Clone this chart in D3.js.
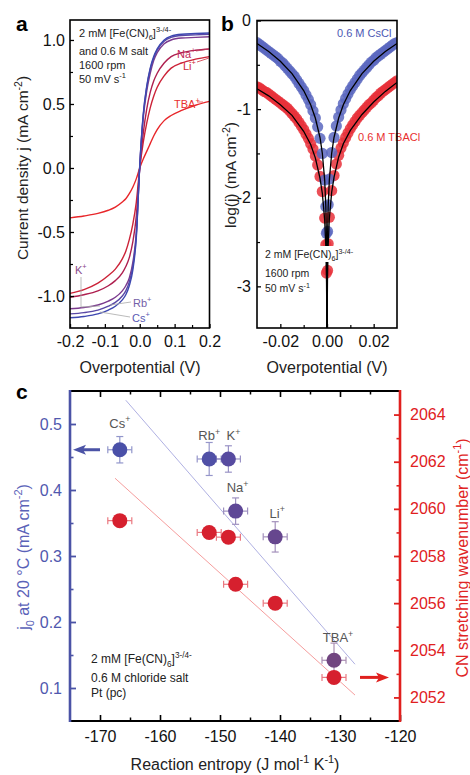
<!DOCTYPE html>
<html>
<head>
<meta charset="utf-8">
<script src="https://cdn.jsdelivr.net/npm/d3@7/dist/d3.min.js"></script>
<style>
  body { margin: 0; background: #fff; }
  svg { display: block; font-family: "Liberation Sans", Arial, sans-serif; }
</style>
</head>
<body>
<script>
// ---- panel a: RDE polarisation curves ----
const etaA = [-0.2, -0.16, -0.12, -0.09, -0.07, -0.05, -0.04, -0.03, -0.02, -0.01, 0,
  0.01, 0.02, 0.03, 0.04, 0.05, 0.07, 0.09, 0.12, 0.16, 0.2];
const jCs = [-1.17, -1.16, -1.14, -1.11, -1.08, -1.03, -0.99, -0.92, -0.80, -0.55, 0.02,
  0.42, 0.64, 0.78, 0.87, 0.93, 1.0, 1.03, 1.045, 1.05, 1.055];
const jRb = [-1.14, -1.13, -1.11, -1.08, -1.05, -1.0, -0.96, -0.89, -0.77, -0.53, 0.02,
  0.41, 0.63, 0.77, 0.86, 0.92, 0.99, 1.02, 1.035, 1.04, 1.045];
const jK = [-1.10, -1.09, -1.07, -1.04, -1.01, -0.96, -0.92, -0.86, -0.74, -0.51, 0.01,
  0.39, 0.60, 0.74, 0.84, 0.90, 0.97, 1.0, 1.015, 1.02, 1.025];
const jNa = [-1.01, -0.99, -0.96, -0.92, -0.88, -0.82, -0.77, -0.70, -0.58, -0.38, 0.0,
  0.27, 0.46, 0.59, 0.68, 0.74, 0.82, 0.87, 0.90, 0.92, 0.93];
const jLi = [-0.98, -0.95, -0.90, -0.84, -0.79, -0.71, -0.65, -0.56, -0.44, -0.27, 0.0,
  0.20, 0.35, 0.47, 0.56, 0.63, 0.72, 0.78, 0.82, 0.85, 0.87];
const jTBA = [-0.39, -0.375, -0.355, -0.33, -0.305, -0.265, -0.24, -0.20, -0.15, -0.085, 0.0,
  0.07, 0.13, 0.19, 0.25, 0.30, 0.37, 0.41, 0.45, 0.49, 0.52];

// ---- panel b: log|j| near equilibrium ----
const etaB = [-0.030, -0.029, -0.028, -0.027, -0.026, -0.025, -0.024, -0.023, -0.022, -0.021,
  -0.020, -0.019, -0.018, -0.017, -0.016, -0.015, -0.014, -0.013, -0.012, -0.011,
  -0.010, -0.009, -0.008, -0.007, -0.006, -0.005, -0.004, -0.003, -0.002, -0.001,
  -0.0005, -0.00025, 0.00025, 0.0005,
  0.001, 0.002, 0.003, 0.004, 0.005, 0.006, 0.007, 0.008, 0.009, 0.010,
  0.011, 0.012, 0.013, 0.014, 0.015, 0.016, 0.017, 0.018, 0.019, 0.020,
  0.021, 0.022, 0.023, 0.024, 0.025, 0.026, 0.027, 0.028, 0.029, 0.030];
const logCs = [-0.25, -0.27, -0.29, -0.31, -0.33, -0.35, -0.37, -0.39, -0.41, -0.43,
  -0.46, -0.48, -0.51, -0.54, -0.57, -0.60, -0.63, -0.67, -0.71, -0.75,
  -0.79, -0.84, -0.89, -0.95, -1.02, -1.10, -1.20, -1.33, -1.50, -1.80,
  -2.10, -2.40, -2.38, -2.08,
  -1.79, -1.49, -1.32, -1.19, -1.09, -1.01, -0.94, -0.88, -0.83, -0.78,
  -0.74, -0.70, -0.66, -0.62, -0.59, -0.56, -0.53, -0.50, -0.47, -0.45,
  -0.42, -0.40, -0.38, -0.36, -0.34, -0.32, -0.30, -0.28, -0.26, -0.25];
const logTBA = [-0.75, -0.76, -0.78, -0.80, -0.81, -0.83, -0.85, -0.87, -0.89, -0.91,
  -0.93, -0.95, -0.97, -0.99, -1.02, -1.05, -1.08, -1.11, -1.15, -1.19,
  -1.23, -1.28, -1.33, -1.39, -1.45, -1.53, -1.63, -1.76, -1.93, -2.23,
  -2.53, -2.85, -2.82, -2.52,
  -2.22, -1.92, -1.75, -1.62, -1.52, -1.44, -1.38, -1.32, -1.27, -1.22,
  -1.18, -1.14, -1.10, -1.07, -1.04, -1.01, -0.98, -0.95, -0.93, -0.90,
  -0.87, -0.85, -0.82, -0.80, -0.78, -0.76, -0.74, -0.72, -0.70, -0.68];
// fitted curves (one branch on each side of zero)
const fitEtaL = [-0.03, -0.025, -0.02, -0.015, -0.01, -0.007, -0.005, -0.003, -0.002, -0.001,
  -0.0005, -0.0002, -0.0001, -0.00003, -0.00001];
const fitEtaR = [0.00001, 0.00003, 0.0001, 0.0002, 0.0005, 0.001, 0.002, 0.003, 0.005, 0.007,
  0.01, 0.015, 0.02, 0.025, 0.03];
const fitCsL = [-0.26, -0.35, -0.46, -0.60, -0.79, -0.95, -1.10, -1.32, -1.50, -1.80,
  -2.10, -2.50, -2.80, -3.32, -3.80];
const fitCsR = [-3.80, -3.32, -2.80, -2.50, -2.10, -1.80, -1.50, -1.32, -1.10, -0.95,
  -0.79, -0.60, -0.46, -0.35, -0.26];
const fitTBAL = [-0.77, -0.85, -0.95, -1.07, -1.25, -1.40, -1.55, -1.78, -1.95, -2.25,
  -2.55, -2.95, -3.25, -3.77, -4.2];
const fitTBAR = [-4.2, -3.76, -3.24, -2.94, -2.54, -2.24, -1.94, -1.77, -1.54, -1.39,
  -1.24, -1.06, -0.92, -0.80, -0.70];

// ---- panel c: j0 and CN wavenumber vs reaction entropy ----
const cations = ["Cs", "Rb", "K", "Na", "Li", "TBA"];
const entropy = [-166.7, -151.8, -148.6, -147.4, -140.8, -131.0];
const entropyErr = [2, 2, 2, 2, 2, 2];
const j0 = [0.461, 0.447, 0.447, 0.368, 0.329, 0.142];
const j0Err = [0.02, 0.025, 0.02, 0.02, 0.023, 0.026];
const wavenumber = [2059.5, 2059.0, 2058.8, 2056.8, 2056.0, 2052.85];
const fitJ0 = [[-165.7, 0.536], [-127.5, 0.136]];
const fitWave = [[-167.5, 2061.3], [-127.5, 2052.1]];

const W = 470, H = 775;
const svg = d3.select("body").append("svg").attr("width", W).attr("height", H);

// text with super/subscripts
function rich(g, x, y, parts, fs, attrs) {
  const t = g.append("text").attr("x", x).attr("y", y).attr("font-size", fs);
  Object.entries(attrs || {}).forEach(([k, v]) => t.attr(k, v));
  let cur = 0;
  parts.forEach(p => {
    const p2 = typeof p === "string" ? { t: p } : p;
    const shift = p2.sup ? -0.42 * fs : p2.sub ? 0.3 * fs : 0;
    t.append("tspan").attr("dy", shift - cur)
      .attr("font-size", p2.sup || p2.sub ? fs * 0.68 : fs).text(p2.t);
    cur = shift;
  });
  return t;
}
const hy = s => s.replace("\u2212", "-");

function styleAxis(g, w, color) {
  g.select(".domain").remove();
  g.selectAll(".tick line").attr("stroke", color || "#000").attr("stroke-width", w);
  g.selectAll(".tick text").attr("font-size", 16).attr("fill", color || "#111");
  g.attr("font-family", null);
}

// ================= panel a =================
const xA = d3.scaleLinear().domain([-0.2, 0.2]).range([70, 209.5]);
const yA = d3.scaleLinear().domain([-1.25, 1.156]).range([328, 20]);
const gA = svg.append("g");

const curvesA = [
  { j: jTBA, c: "#e8262a" }, { j: jLi, c: "#cc2338" }, { j: jNa, c: "#ae1f4f" },
  { j: jK, c: "#7b3a8e" }, { j: jRb, c: "#5a48a6" }, { j: jCs, c: "#3d47b0" }
];
const lineA = d3.line().x(d => xA(d[0])).y(d => yA(d[1])).curve(d3.curveMonotoneX);
gA.selectAll("path.iv").data(curvesA).join("path").attr("class", "iv")
  .attr("d", d => lineA(etaA.map((e, i) => [e, d.j[i]])))
  .attr("fill", "none").attr("stroke", d => d.c).attr("stroke-width", 1.4);

gA.append("g").attr("transform", "translate(0,328)")
  .call(d3.axisBottom(xA).tickValues([-0.2, -0.1, 0, 0.1, 0.2]).tickSize(-4).tickPadding(8)
    .tickFormat(d => hy(d3.format(".1f")(d))))
  .call(g => styleAxis(g, 1.3));
gA.append("g").attr("transform", "translate(0,328)")
  .call(d3.axisBottom(xA).tickValues([-0.15, -0.05, 0.05, 0.15]).tickSize(-3).tickFormat(""))
  .call(g => styleAxis(g, 1.2));
gA.append("g").attr("transform", "translate(70,0)")
  .call(d3.axisLeft(yA).tickValues([-1, -0.5, 0, 0.5, 1]).tickSize(-4).tickPadding(5)
    .tickFormat(d => hy(d3.format(".1f")(d))))
  .call(g => styleAxis(g, 1.3));
gA.append("g").attr("transform", "translate(70,0)")
  .call(d3.axisLeft(yA).tickValues([-0.75, -0.25, 0.25, 0.75]).tickSize(-3).tickFormat(""))
  .call(g => styleAxis(g, 1.2));
gA.append("rect").attr("x", 70).attr("y", 20).attr("width", 139.5).attr("height", 308)
  .attr("fill", "none").attr("stroke", "#000").attr("stroke-width", 1.6);

// annotations a
const tA = gA.append("g").attr("fill", "#222");
rich(tA, 79, 37, ["2 mM [Fe(CN)", { t: "6", sub: true }, "]", { t: "3-/4-", sup: true }], 11);
rich(tA, 79, 55, ["and 0.6 M salt"], 11);
rich(tA, 79, 69, ["1600 rpm"], 11);
rich(tA, 79, 83, ["50 mV s", { t: "-1", sup: true }], 11);

const leader = (g, pts, c) => g.append("path").attr("d", d3.line()(pts))
  .attr("fill", "none").attr("stroke", c || "#aaa").attr("stroke-width", 0.8);
leader(gA, [[196, 51], [209, 49]], "#c04060");
leader(gA, [[197, 62], [209, 58]], "#d03040");
leader(gA, [[197, 102], [203, 102]], "#e84040");
leader(gA, [[81, 277], [81, 307], [100, 306]]);
leader(gA, [[131, 302], [110, 305]]);
leader(gA, [[130, 317], [100, 312]]);
rich(gA, 177, 58, ["Na", { t: "+", sup: true }], 11, { fill: "#c02a5a" });
rich(gA, 183, 70, ["Li", { t: "+", sup: true }], 11, { fill: "#d02838" });
rich(gA, 174, 108, ["TBA", { t: "+", sup: true }], 11, { fill: "#e83030" });
rich(gA, 75, 274, ["K", { t: "+", sup: true }], 11, { fill: "#8a4a8a" });
rich(gA, 133, 307, ["Rb", { t: "+", sup: true }], 11, { fill: "#7460a8" });
rich(gA, 132, 322, ["Cs", { t: "+", sup: true }], 11, { fill: "#5a5ab4" });

rich(gA, 140, 373, ["Overpotential (V)"], 16, { "text-anchor": "middle", fill: "#222" });
rich(gA.append("g").attr("transform", "translate(28,168) rotate(-90)"), 0, 0,
  ["Current density j (mA cm", { t: "-2", sup: true }, ")"], 15.5, { "text-anchor": "middle", fill: "#222" });
svg.append("text").attr("x", 16).attr("y", 31).attr("font-size", 21).attr("font-weight", "bold").text("a");

// ================= panel b =================
const xB = d3.scaleLinear().domain([-0.03, 0.03]).range([257, 397]);
const yB = d3.scaleLinear().domain([-3.47, 0]).range([328, 20.5]);
const gB = svg.append("g");
svg.append("clipPath").attr("id", "clipB").append("rect")
  .attr("x", 257).attr("y", 20.5).attr("width", 140).attr("height", 307.5);
const plotB = gB.append("g").attr("clip-path", "url(#clipB)");

plotB.selectAll("circle.tba").data(etaB).join("circle").attr("class", "tba")
  .attr("cx", d => xB(d)).attr("cy", (d, i) => yB(logTBA[i])).attr("r", 5.6)
  .attr("fill", "#e8303a").attr("fill-opacity", 0.85);
plotB.selectAll("circle.cs").data(etaB).join("circle").attr("class", "cs")
  .attr("cx", d => xB(d)).attr("cy", (d, i) => yB(logCs[i])).attr("r", 5.6)
  .attr("fill", "#5b67bf").attr("fill-opacity", 0.85);

const lineB = d3.line().x(d => xB(d[0])).y(d => yB(d[1]));
[[fitEtaL, fitCsL], [fitEtaR, fitCsR], [fitEtaL, fitTBAL], [fitEtaR, fitTBAR]].forEach(([e, v]) => {
  plotB.append("path").attr("d", lineB(e.map((x, i) => [x, v[i]])))
    .attr("fill", "none").attr("stroke", "#000").attr("stroke-width", 1.3);
});

gB.append("rect").attr("x", 263).attr("y", 246).attr("width", 96).attr("height", 16).attr("fill", "#fff");
const tB = gB.append("g").attr("fill", "#222");
rich(tB, 265, 258, ["2 mM [Fe(CN)", { t: "6", sub: true }, "]", { t: "3-/4-", sup: true }], 10.5);
rich(tB, 265, 277, ["1600 rpm"], 10.5);
rich(tB, 265, 292, ["50 mV s", { t: "-1", sup: true }], 10.5);
rich(gB, 337, 37, ["0.6 M CsCl"], 11, { fill: "#4c58b4" });
rich(gB, 358, 141, ["0.6 M TBACl"], 11, { fill: "#e83030" });

gB.append("g").attr("transform", "translate(0,328)")
  .call(d3.axisBottom(xB).tickValues([-0.02, 0, 0.02]).tickSize(-4).tickPadding(8)
    .tickFormat(d => hy(d3.format(".2f")(d))))
  .call(g => styleAxis(g, 1.3));
gB.append("g").attr("transform", "translate(0,328)")
  .call(d3.axisBottom(xB).tickValues([-0.01, 0.01]).tickSize(-3).tickFormat(""))
  .call(g => styleAxis(g, 1.2));
gB.append("g").attr("transform", "translate(257,0)")
  .call(d3.axisLeft(yB).tickValues([-3, -2, -1, 0]).tickSize(-4).tickPadding(6).tickFormat(d => String(d)))
  .call(g => styleAxis(g, 1.3));
gB.append("g").attr("transform", "translate(257,0)")
  .call(d3.axisLeft(yB).tickValues([-2.5, -1.5, -0.5]).tickSize(-3).tickFormat(""))
  .call(g => styleAxis(g, 1.2));
gB.append("rect").attr("x", 257).attr("y", 20.5).attr("width", 140).attr("height", 307.5)
  .attr("fill", "none").attr("stroke", "#000").attr("stroke-width", 1.6);

rich(gB, 327, 373, ["Overpotential (V)"], 16, { "text-anchor": "middle", fill: "#222" });
rich(gB.append("g").attr("transform", "translate(236,175) rotate(-90)"), 0, 0,
  ["log(j) (mA cm", { t: "-2", sup: true }, ")"], 15.5, { "text-anchor": "middle", fill: "#222" });
svg.append("text").attr("x", 221).attr("y", 31).attr("font-size", 21).attr("font-weight", "bold").text("b");

// ================= panel c =================
const xC = d3.scaleLinear().domain([-175, -120]).range([70, 400]);
const yJ = d3.scaleLinear().domain([0.05, 0.55]).range([721, 391]);
const yW = d3.scaleLinear().domain([2051, 2065]).range([721, 391]);
const gC = svg.append("g");
const blueAx = "#4b53a6", redAx = "#e0201e";

gC.append("path").attr("d", d3.line()(fitJ0.map(d => [xC(d[0]), yJ(d[1])])))
  .attr("stroke", "#9a9cda").attr("stroke-width", 0.8).attr("fill", "none");
gC.append("path").attr("d", d3.line()(fitWave.map(d => [xC(d[0]), yW(d[1])])))
  .attr("stroke", "#f28484").attr("stroke-width", 0.8).attr("fill", "none");

const blueCols = ["#4a50a8", "#5050a6", "#574ba0", "#5e4796", "#66468e", "#714580"];
const pts = cations.map((c, i) => ({ c, i }));

function errBars(g, x, y, ex, ey, col) {
  const cap = 3.5;
  const seg = (x1, y1, x2, y2) => g.append("line").attr("x1", x1).attr("y1", y1).attr("x2", x2).attr("y2", y2)
    .attr("stroke", col).attr("stroke-width", 1.2);
  seg(x - ex, y, x + ex, y); seg(x - ex, y - cap, x - ex, y + cap); seg(x + ex, y - cap, x + ex, y + cap);
  if (ey) { seg(x, y - ey, x, y + ey); seg(x - cap, y - ey, x + cap, y - ey); seg(x - cap, y + ey, x + cap, y + ey); }
}
pts.forEach(({ i }) => {
  const x = xC(entropy[i]), ex = xC(entropy[i] + entropyErr[i]) - x;
  const yr = yW(wavenumber[i]);
  errBars(gC, x, yr, ex, 0, "#ea7880");
  const yb = yJ(j0[i]), eyb = yJ(j0[i] - j0Err[i]) - yb;
  errBars(gC, x, yb, ex, eyb, d3.interpolateRgb(blueCols[i], "#fff")(0.4));
});
gC.selectAll("circle.w").data(pts).join("circle").attr("class", "w")
  .attr("cx", d => xC(entropy[d.i])).attr("cy", d => yW(wavenumber[d.i])).attr("r", 7.5).attr("fill", "#d6202e");
gC.selectAll("circle.j").data(pts).join("circle").attr("class", "j")
  .attr("cx", d => xC(entropy[d.i])).attr("cy", d => yJ(j0[d.i])).attr("r", 7.5).attr("fill", d => blueCols[d.i]);

// cation labels
const labOff = { Cs: [0, -22], Rb: [0, -19], K: [5, -19], Na: [2, -19], Li: [2, -19], TBA: [4, -18] };
pts.forEach(({ c, i }) => {
  const o = labOff[c];
  rich(gC, xC(entropy[i]) + o[0], yJ(j0[i]) + o[1], [c, { t: "+", sup: true }], 13,
    { "text-anchor": "middle", fill: "#555" });
});

// arrows
function arrow(g, x1, x2, y, col) {
  const dir = Math.sign(x2 - x1);
  g.append("line").attr("x1", x1).attr("y1", y).attr("x2", x2 - dir * 10).attr("y2", y)
    .attr("stroke", col).attr("stroke-width", 3);
  g.append("path").attr("d", `M${x2},${y}L${x2 - dir * 13},${y - 5}L${x2 - dir * 10},${y}L${x2 - dir * 13},${y + 5}Z`)
    .attr("fill", col);
}
arrow(gC, 100, 73, yJ(j0[0]), blueAx);
arrow(gC, 360, 389, yW(wavenumber[5]), redAx);

// axes c
gC.append("g").attr("transform", "translate(0,721)")
  .call(d3.axisBottom(xC).tickValues([-170, -160, -150, -140, -130, -120]).tickSize(-6).tickPadding(10).tickFormat(d => String(d)))
  .call(g => styleAxis(g, 1.6));
gC.append("g").attr("transform", "translate(0,721)")
  .call(d3.axisBottom(xC).tickValues([-165, -155, -145, -135, -125]).tickSize(-3.5).tickFormat(""))
  .call(g => styleAxis(g, 1.5));
gC.append("g").attr("transform", "translate(0,391)")
  .call(d3.axisTop(xC).tickValues([-170, -160, -150, -140, -130]).tickSize(-6).tickFormat(""))
  .call(g => styleAxis(g, 1.6));
gC.append("g").attr("transform", "translate(0,391)")
  .call(d3.axisTop(xC).tickValues([-165, -155, -145, -135, -125]).tickSize(-3.5).tickFormat(""))
  .call(g => styleAxis(g, 1.5));
gC.append("g").attr("transform", "translate(70,0)")
  .call(d3.axisLeft(yJ).tickValues([0.1, 0.2, 0.3, 0.4, 0.5]).tickSize(-6).tickPadding(8).tickFormat(d3.format(".1f")))
  .call(g => styleAxis(g, 1.8, blueAx));
gC.append("g").attr("transform", "translate(70,0)")
  .call(d3.axisLeft(yJ).tickValues([0.15, 0.25, 0.35, 0.45]).tickSize(-3.5).tickFormat(""))
  .call(g => styleAxis(g, 1.6, blueAx));
gC.append("g").attr("transform", "translate(400,0)")
  .call(d3.axisRight(yW).tickValues([2052, 2054, 2056, 2058, 2060, 2062, 2064]).tickSize(-6).tickPadding(10).tickFormat(d => String(d)))
  .call(g => styleAxis(g, 1.8, redAx));
gC.append("g").attr("transform", "translate(400,0)")
  .call(d3.axisRight(yW).tickValues([2053, 2055, 2057, 2059, 2061, 2063]).tickSize(-3.5).tickFormat(""))
  .call(g => styleAxis(g, 1.6, redAx));
gC.selectAll("g .tick text").filter(function () { return this.getAttribute("fill") === blueAx; }).attr("fill", "#5058ae");

gC.append("line").attr("x1", 70).attr("x2", 400).attr("y1", 391).attr("y2", 391).attr("stroke", "#000").attr("stroke-width", 2);
gC.append("line").attr("x1", 70).attr("x2", 400).attr("y1", 721).attr("y2", 721).attr("stroke", "#000").attr("stroke-width", 2);
gC.append("line").attr("x1", 70).attr("x2", 70).attr("y1", 390).attr("y2", 722).attr("stroke", blueAx).attr("stroke-width", 2.6);
gC.append("line").attr("x1", 400).attr("x2", 400).attr("y1", 390).attr("y2", 722).attr("stroke", redAx).attr("stroke-width", 2.6);

const tC = gC.append("g").attr("fill", "#222");
rich(tC, 91, 663, ["2 mM [Fe(CN)", { t: "6", sub: true }, "]", { t: "3-/4-", sup: true }], 12);
rich(tC, 91, 682, ["0.6 M chloride salt"], 12);
rich(tC, 91, 697, ["Pt (pc)"], 12);

rich(gC, 235, 770, ["Reaction entropy (J mol", { t: "-1", sup: true }, " K", { t: "-1", sup: true }, ")"], 16,
  { "text-anchor": "middle", fill: "#222" });
rich(gC.append("g").attr("transform", "translate(29,557) rotate(-90)"), 0, 0,
  ["j", { t: "0", sub: true }, " at 20 \u00B0C (mA cm", { t: "-2", sup: true }, ")"], 16,
  { "text-anchor": "middle", fill: "#5a62b8" });
rich(gC.append("g").attr("transform", "translate(468,558) rotate(-90)"), 0, 0,
  ["CN stretching wavenumber (cm", { t: "-1", sup: true }, ")"], 16,
  { "text-anchor": "middle", fill: "#e02424" });
svg.append("text").attr("x", 16).attr("y", 399).attr("font-size", 21).attr("font-weight", "bold").text("c");
</script>
</body>
</html>
